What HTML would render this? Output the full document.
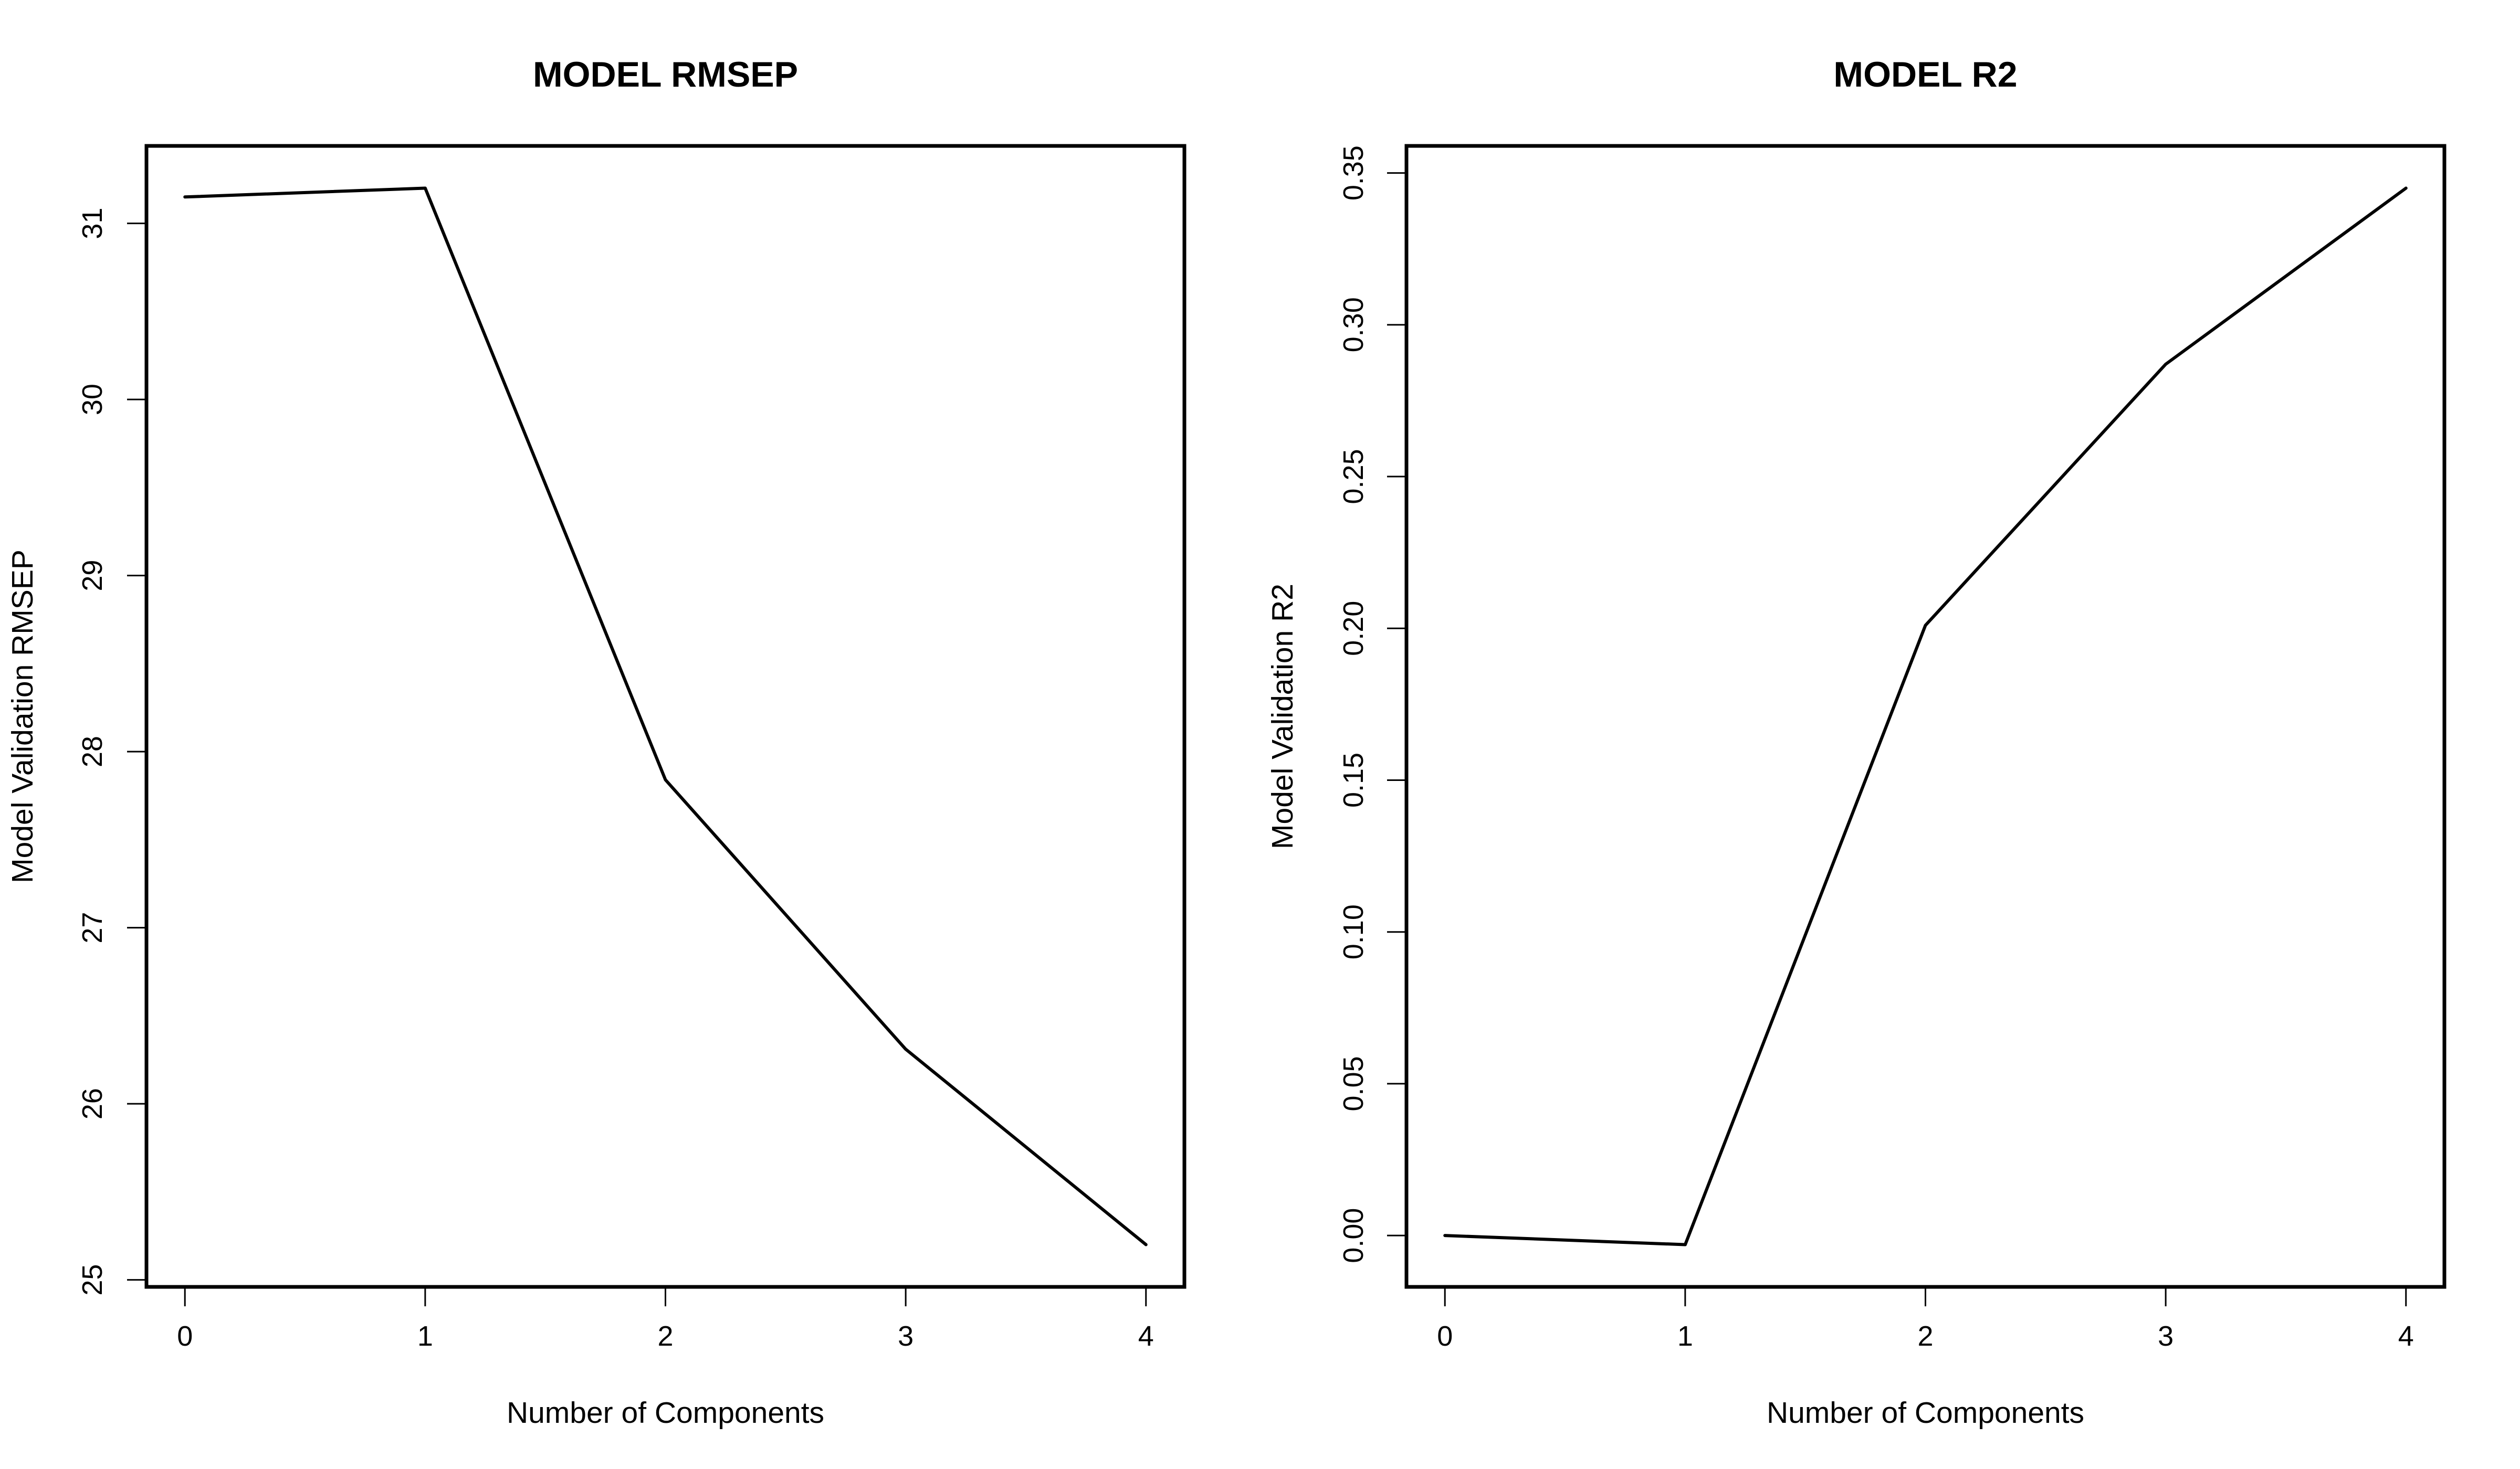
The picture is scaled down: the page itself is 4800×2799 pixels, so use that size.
<!DOCTYPE html>
<html><head><meta charset="utf-8"><style>
html,body{margin:0;padding:0;background:#fff;}
svg{display:block;font-family:"Liberation Sans",Arial,sans-serif;}
</style></head><body>
<svg id="chart" width="4800" height="2799" viewBox="0 0 4800 2799" xmlns="http://www.w3.org/2000/svg">
<rect width="4800" height="2799" fill="#fff"/>
</svg>
<script>
const components = [0, 1, 2, 3, 4];
const rmsepValues = [31.15, 31.20, 27.84, 26.31, 25.20];
const r2Values = [0.000, -0.003, 0.201, 0.287, 0.345];
const rmsepTicks = [25, 26, 27, 28, 29, 30, 31];
const rmsepTickLabels = ["25", "26", "27", "28", "29", "30", "31"];
const r2Ticks = [0, 0.05, 0.10, 0.15, 0.20, 0.25, 0.30, 0.35];
const r2TickLabels = ["0.00", "0.05", "0.10", "0.15", "0.20", "0.25", "0.30", "0.35"];
const xTickLabels = ["0", "1", "2", "3", "4"];

const NS = "http://www.w3.org/2000/svg";
const svg = document.getElementById("chart");
function mk(tag, attrs, parent) {
  const e = document.createElementNS(NS, tag);
  for (const k in attrs) e.setAttribute(k, attrs[k]);
  (parent || svg).appendChild(e);
  return e;
}

function panel(prefix, left, title, yTitle, values, ticks, tickLabels, yLabelX, yTitleX) {
  const top = 278, bottom = 2452, right = left + 1977;
  const g = mk("g", {});
  
  
  const xmin = Math.min(...components), xmax = Math.max(...components);
  const xr = xmax - xmin;
  const x0 = xmin - 0.04 * xr, x1 = xmax + 0.04 * xr;
  const ymin = Math.min(...values), ymax = Math.max(...values);
  const yr = ymax - ymin;
  const y0 = ymin - 0.04 * yr, y1 = ymax + 0.04 * yr;
  const sx = v => left + (v - x0) / (x1 - x0) * (right - left);
  const sy = v => bottom - (v - y0) / (y1 - y0) * (bottom - top);

  const t = mk("text", {x: (left + right) / 2, y: 165, "text-anchor": "middle", "font-size": 68, "font-weight": "bold"}, g);
  t.textContent = title;
  
  

  const box = mk("rect", {x: left, y: top, width: right - left, height: bottom - top, fill: "none", stroke: "#000", "stroke-width": 7}, g);
  
  

  components.forEach((c, i) => {
    const x = sx(c);
    const tk = mk("line", {x1: x, x2: x, y1: bottom, y2: bottom + 37, stroke: "#000", "stroke-width": 3}, g);
    
    
    const lb = mk("text", {x: x, y: 2564, "text-anchor": "middle", "font-size": 54}, g);
    lb.textContent = xTickLabels[i];
    
    
  });

  ticks.forEach((v, i) => {
    const y = sy(v);
    const tk = mk("line", {x1: left, x2: left - 37, y1: y, y2: y, stroke: "#000", "stroke-width": 3}, g);
    
    
    const lb = mk("text", {x: yLabelX, y: y, "text-anchor": "middle", "font-size": 54, transform: `rotate(-90 ${yLabelX} ${y})`}, g);
    lb.textContent = tickLabels[i];
    
    
  });

  const xt = mk("text", {x: (left + right) / 2, y: 2711, "text-anchor": "middle", "font-size": 57}, g);
  xt.textContent = "Number of Components";
  
  

  const cy = (top + bottom) / 2;
  const yt = mk("text", {x: yTitleX, y: cy, "text-anchor": "middle", "font-size": 57, transform: `rotate(-90 ${yTitleX} ${cy})`}, g);
  yt.textContent = yTitle;
  
  

  const pts = components.map((c, i) => sx(c).toFixed(1) + "," + sy(values[i]).toFixed(1)).join(" ");
  const ln = mk("polyline", {points: pts, fill: "none", stroke: "#000", "stroke-width": 6, "stroke-linejoin": "round", "stroke-linecap": "round"}, g);
  
  
}

panel("rmsep", 279, "MODEL RMSEP", "Model Validation RMSEP", rmsepValues, rmsepTicks, rmsepTickLabels, 194, 62);
panel("r2", 2679, "MODEL R2", "Model Validation R2", r2Values, r2Ticks, r2TickLabels, 2596, 2462);
</script>
</body></html>
